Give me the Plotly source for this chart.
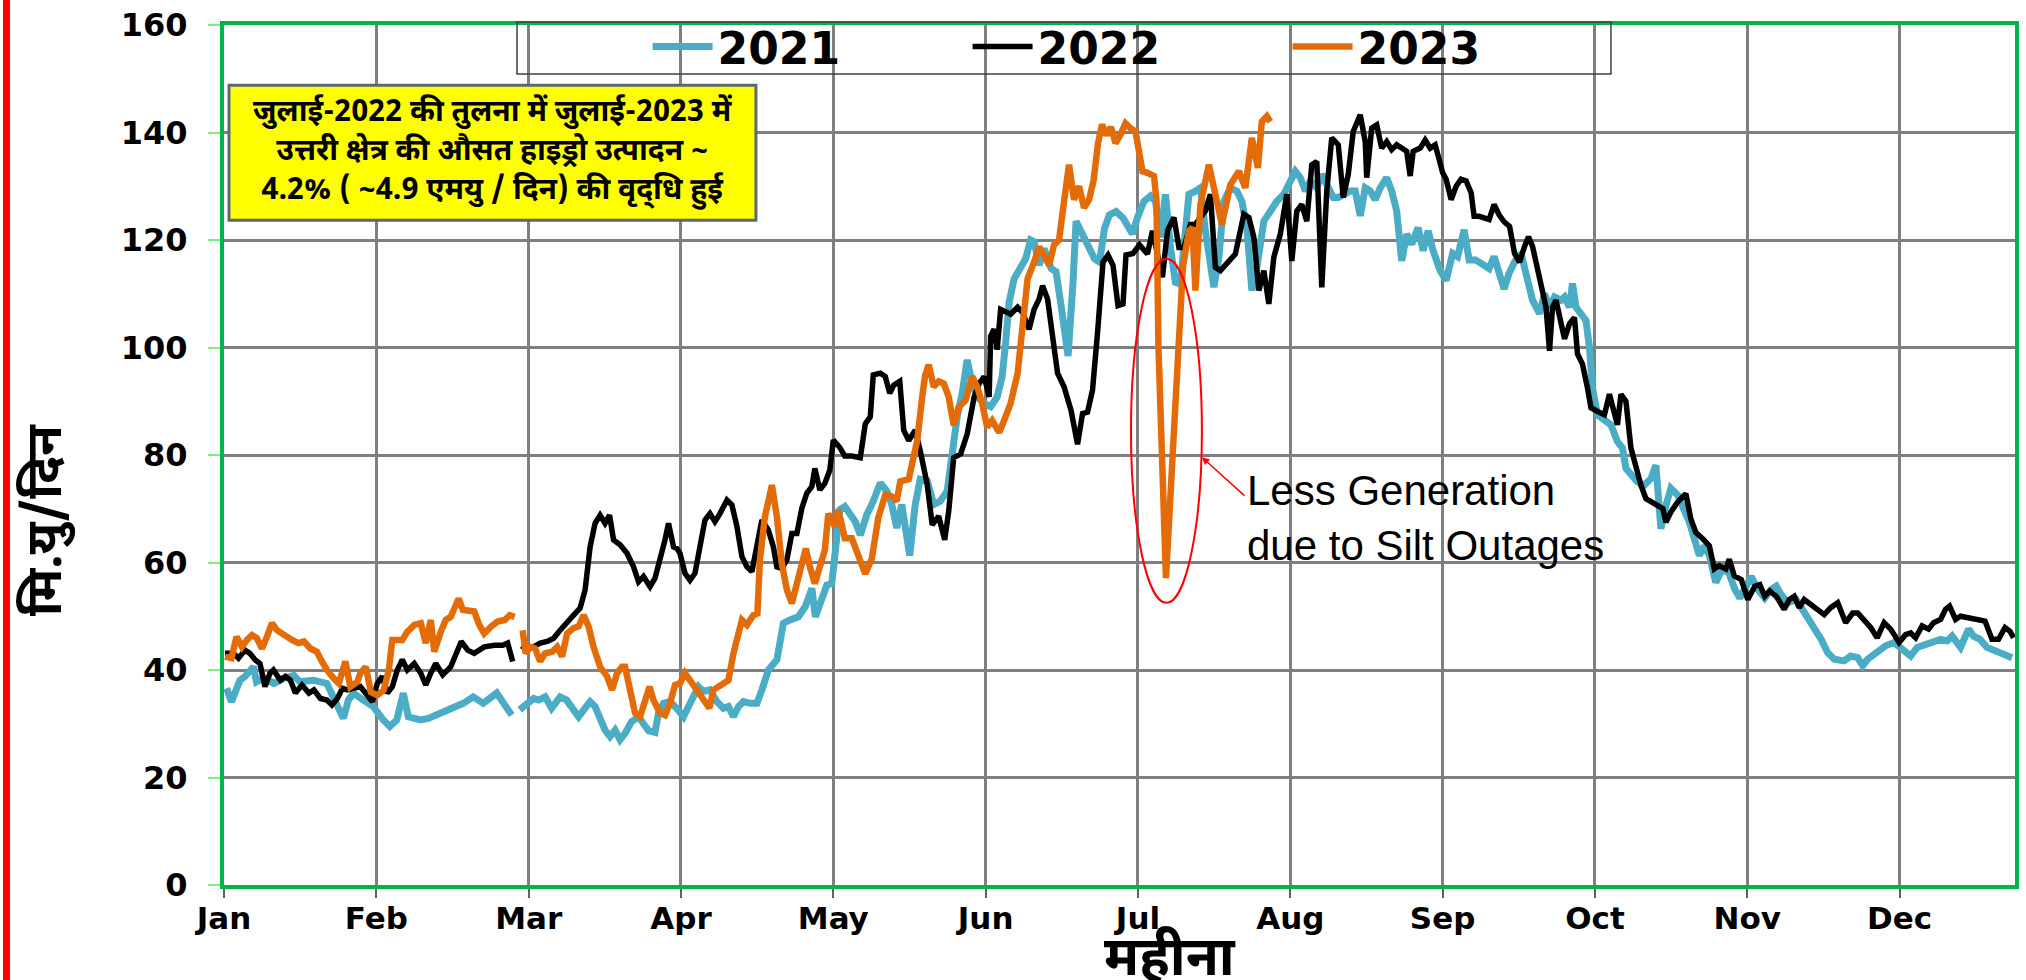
import plotly.graph_objects as go

# x = day of the year (Jan 1 = 0), months drawn at equal spacing like the source chart
MONTHS = ["Jan", "Feb", "Mar", "Apr", "May", "Jun", "Jul", "Aug", "Sep", "Oct", "Nov", "Dec"]
MONTH_POS = [i * 30.5 for i in range(12)]
Y_TICKS = [0, 20, 40, 60, 80, 100, 120, 140, 160]

# (day, MU/day); None = missing 29 Feb
HYDRO_2021 = [
    (0.5, 36.6), (1.5, 34.1), (3.2, 38.1), (4.2, 38.8), (5.9, 40.6), (6.5, 37.8), (8, 38.5), (10, 37.5),
    (12, 38.5), (14, 39.0), (15.2, 37.8), (17.9, 38.1), (20.6, 37.5), (22.2, 34.4), (23.9, 31.0), (24.9, 34.4),
    (25.9, 35.7), (27.9, 34.4), (29.9, 33.2), (31.9, 30.7), (33.2, 29.5), (34.6, 30.7), (35.9, 35.7), (36.9, 31.3),
    (39.3, 30.7), (40.9, 31.0), (43.3, 31.9), (45.9, 33.2), (47.9, 33.8), (49.9, 35.0), (51.9, 33.8), (54.6, 35.7),
    (55.9, 33.8), (57.6, 31.6), (58.5, None), (59.2, 32.6), (60.6, 33.5), (62, 34.7), (63, 34.4), (64.3, 35.0),
    (65.6, 32.9), (67.3, 35.0), (68.6, 34.4), (70, 32.6), (71, 31.3), (72.3, 32.9), (73.3, 34.1), (74.3, 33.2),
    (75.3, 30.7), (76.3, 28.8), (77.3, 27.6), (78.3, 28.8), (79.3, 27.0), (80.3, 28.2), (81.6, 30.4), (83, 31.3),
    (84, 30.0), (85, 28.7), (86.3, 28.4), (87, 32.0), (88, 33.8), (89.3, 34.1), (90.6, 32.9), (92, 31.3),
    (93, 33.2), (94, 35.0), (95, 36.9), (96, 36.0), (97.3, 36.3), (98.7, 34.1), (100, 32.9), (101, 33.2),
    (102, 31.3), (103, 33.2), (104, 34.1), (105.4, 33.8), (106.7, 33.8), (107.7, 36.3), (109, 40.0), (110.7, 41.9),
    (112, 48.7), (113.3, 49.3), (115, 49.9), (116.4, 51.8), (117.7, 55.2), (118.4, 49.9), (119.7, 53.6), (120.7, 55.8),
    (121.7, 56.1), (122.7, 63.2), (123.3, 69.8), (124.3, 70.4), (125.4, 68.9), (126.4, 67.6), (127.4, 65.1), (128.7, 68.9),
    (130, 71.4), (131.4, 74.8), (132.7, 73.3), (133.7, 70.8), (134.7, 66.4), (135.7, 70.8), (137.3, 61.3), (138.4, 70.8),
    (139.4, 75.5), (140.8, 75.2), (142.1, 70.8), (143.4, 71.4), (144.8, 73.3), (145.8, 81.4), (146.8, 87.1), (147.8, 91.5),
    (148.8, 97.7), (149.8, 93.3), (150.8, 90.8), (152.2, 89.6), (153.5, 89.0), (154.8, 90.8), (155.8, 94.6), (156.5, 100.9),
    (157.2, 108.4), (158.2, 112.8), (159.5, 114.7), (160.5, 116.5), (161.5, 120.0), (162.2, 119.7), (163.2, 115.3), (164.2, 118.4),
    (165.6, 114.7), (166.6, 114.1), (167.6, 107.8), (169, 98.4), (170, 112.2), (170.6, 123.5), (171.6, 121.6), (173, 119.1),
    (174.3, 116.5), (175.3, 115.9), (176.3, 122.2), (177.3, 124.7), (178.6, 125.3), (180, 124.1), (181.9, 121.1), (182.9, 124.2),
    (184.2, 127.2), (185.5, 128.2), (186.5, 127.2), (187.5, 120.5), (188.5, 128.5), (189.5, 118.6), (190.5, 112.1), (191.5, 111.8),
    (192.5, 121.7), (193.2, 128.5), (194.5, 129.1), (195.5, 129.7), (196.5, 121.7), (197.2, 116.8), (198.2, 111.2), (199.2, 116.8),
    (200.2, 127.2), (201.5, 129.7), (202.8, 129.1), (203.8, 127.2), (204.8, 122.3), (205.8, 110.6), (206.8, 114.9), (208.2, 123.5),
    (209.5, 125.4), (210.8, 127.2), (212.2, 128.5), (213.2, 130.3), (214.5, 132.8), (215.5, 131.6), (216.5, 129.1), (217.5, 131.0),
    (218.8, 129.7), (219.8, 132.2), (220.8, 130.3), (222.1, 127.9), (223.1, 127.9), (224.5, 128.5), (225.5, 129.1), (226.5, 129.1),
    (227.5, 124.5), (228.5, 129.7), (229.5, 129.1), (230.5, 127.5), (231.5, 129.7), (232.8, 131.6), (233.8, 129.1), (234.8, 125.4),
    (235.8, 116.1), (236.8, 121.1), (237.8, 119.2), (239.1, 122.3), (240.1, 118.0), (241.1, 121.7), (242.1, 118.0), (243.5, 114.3),
    (244.7, 112.5), (246, 117.5), (247, 116.9), (248.3, 121.9), (249.3, 116.3), (250.6, 116.3), (252, 115.6), (253.3, 114.7),
    (254.3, 116.9), (255.3, 113.8), (256.3, 110.9), (257.3, 113.8), (258.4, 115.9), (259.7, 117.5), (261, 113.1), (262, 108.8),
    (263.4, 106.3), (264.4, 110.0), (265.4, 107.5), (266.4, 109.4), (267.7, 108.8), (268.4, 109.4), (269.4, 107.5), (270, 111.9),
    (270.7, 107.5), (271.7, 106.3), (272.7, 105.0), (273.4, 100.0), (274, 92.5), (275, 87.5), (276.4, 86.3), (277.7, 85.6),
    (279, 82.5), (280, 81.3), (280.7, 77.5), (281.7, 76.3), (283, 75.0), (284.4, 74.4), (285.7, 75.6), (286.7, 78.1),
    (287.7, 66.3), (288.7, 70.6), (289.7, 73.8), (291.1, 72.5), (292.4, 70.0), (293.4, 67.5), (294.4, 64.4), (295.4, 61.3),
    (296.4, 63.1), (297.4, 61.3), (298.7, 56.3), (300, 58.8), (301.3, 58.1), (302.5, 55.0), (303.5, 53.4), (304.8, 55.6),
    (305.8, 57.4), (307.1, 55.0), (308.5, 53.4), (309.8, 55.0), (310.8, 55.6), (311.8, 54.0), (313.1, 52.5), (314.8, 53.1),
    (316.1, 51.3), (317.4, 49.4), (318.8, 47.6), (319.8, 45.7), (321.1, 43.2), (322.4, 42.0), (324.4, 41.7), (325.7, 42.6),
    (327.1, 42.3), (328.1, 40.8), (329.1, 42.0), (330, 42.6), (331.4, 43.8), (332.7, 44.5), (334.4, 45.1), (336, 43.8),
    (337.7, 42.6), (339, 44.2), (340.7, 44.8), (342.3, 45.1), (343.7, 45.7), (345, 45.4), (346, 46.3), (347.7, 44.2),
    (349.3, 47.6), (350.3, 46.3), (351.6, 45.7), (353, 44.2), (355, 43.5), (356.6, 42.6), (358, 42.3),
]

HYDRO_2022 = [
    (0.2, 43.1), (1.9, 43.1), (2.9, 42.2), (4.2, 43.7), (5.2, 43.1), (6.2, 41.9), (7.2, 41.2), (8.2, 36.9),
    (9.2, 39.4), (9.9, 40.0), (11.3, 38.1), (12.3, 38.8), (13.3, 38.1), (14.3, 35.7), (15.6, 37.2), (17.0, 35.7),
    (18.0, 36.3), (19.3, 34.7), (20.6, 34.4), (21.6, 33.5), (22.7, 34.7), (23.7, 36.6), (24.7, 36.3), (26.0, 36.6),
    (27.3, 36.9), (28.7, 35.3), (29.7, 34.1), (30.7, 37.5), (31.7, 38.8), (32.7, 35.7), (33.7, 36.9), (34.7, 40.0),
    (35.7, 41.9), (36.7, 40.0), (38.1, 41.2), (39.4, 39.4), (40.4, 37.2), (41.4, 39.4), (42.4, 41.2), (43.8, 39.1),
    (45.4, 40.6), (47.5, 45.3), (48.8, 43.7), (50.1, 43.1), (52.1, 44.3), (54.2, 44.6), (55.8, 44.6), (56.8, 45.0),
    (57.8, 41.6), (58.7, None), (59.6, 44.5), (60.7, 43.7), (62, 44.3), (63.3, 45.0), (64.7, 45.3), (66, 45.9),
    (67.3, 47.4), (68.7, 49.0), (70, 50.2), (71.3, 51.5), (72.3, 54.9), (73.3, 62.9), (74.3, 67.3), (75.3, 68.8),
    (76.3, 67.3), (77.2, 68.8), (78, 64.2), (79.3, 63.3), (80.7, 61.7), (82, 59.2), (83, 56.4), (84, 57.4),
    (85.3, 55.5), (86.3, 57.1), (87.3, 60.5), (88.3, 64.2), (89, 67.3), (90, 62.9), (90.7, 62.6), (91.3, 61.7),
    (92.3, 58.0), (93.3, 56.7), (94.3, 58.0), (95.3, 62.9), (96.3, 67.9), (97.3, 69.1), (98.3, 67.6), (99.3, 69.1),
    (100.7, 71.6), (101.7, 70.7), (102.7, 66.7), (103.7, 61.1), (104.7, 59.2), (105.7, 58.3), (106.7, 62.9), (107.7, 67.9),
    (109, 66.0), (110, 62.9), (110.7, 59.2), (111.7, 58.9), (112.7, 60.5), (113.7, 65.4), (114.7, 65.4), (115.7, 70.1),
    (116.7, 72.9), (117.7, 74.1), (118.3, 77.5), (119.3, 73.5), (120.3, 74.7), (121.3, 77.2), (122, 82.8), (123.3, 81.4),
    (124.3, 79.8), (125.7, 79.8), (127.4, 79.5), (128.4, 85.8), (129.4, 87.1), (130, 94.9), (131.4, 95.2), (132.4, 94.6),
    (133.3, 91.5), (134.1, 93.0), (135.3, 93.7), (136.1, 84.6), (137.1, 82.7), (138.4, 84.6), (139.4, 80.8), (140.8, 74.5),
    (141.8, 67.0), (143.1, 68.6), (144.3, 64.2), (145.1, 69.5), (146.1, 79.5), (147.5, 80.2), (148.8, 83.9), (150.2, 90.8),
    (151.2, 93.3), (152.2, 94.6), (153.2, 90.8), (153.5, 102.1), (154.2, 103.4), (154.8, 99.6), (155.5, 107.1), (156.5, 106.5),
    (157.5, 106.2), (158.9, 107.5), (159.9, 106.5), (161.2, 103.4), (162.2, 107.1), (163.2, 109.0), (163.9, 111.5), (164.9, 109.0),
    (165.9, 102.1), (166.9, 95.2), (168.2, 92.7), (169.6, 88.3), (170.9, 82.0), (171.9, 87.7), (172.9, 88.0), (173.9, 92.1),
    (174.9, 102.7), (176, 115.9), (177, 117.2), (178, 115.3), (179, 107.8), (180, 108.1), (180.6, 117.2), (182, 117.5),
    (183.3, 119.1), (184.9, 117.4), (185.9, 121.7), (186.9, 116.8), (187.9, 113.1), (188.9, 121.7), (190.2, 124.2), (191.2, 118.6),
    (192.2, 118.6), (193.5, 122.9), (194.5, 122.9), (195.5, 124.2), (196.5, 125.4), (197.5, 128.5), (198.5, 114.9), (199.5, 114.3),
    (200.8, 115.5), (202.5, 117.4), (204.2, 124.8), (205.2, 124.2), (206.2, 120.5), (207.2, 110.6), (208.2, 114.3), (209.2, 108.1),
    (210.2, 116.8), (211.5, 121.1), (212.8, 128.5), (213.8, 116.1), (214.8, 125.4), (215.8, 126.6), (216.8, 123.5), (217.8, 134.0),
    (218.8, 134.6), (219.8, 111.2), (220.8, 129.1), (221.8, 139.0), (223.1, 137.7), (224.1, 127.9), (225.1, 132.2), (226.1, 140.2),
    (227.5, 143.3), (228.5, 138.3), (228.8, 131.6), (229.8, 140.8), (230.8, 141.4), (231.8, 137.1), (232.8, 138.3), (233.8, 136.8),
    (234.8, 137.7), (235.8, 137.1), (236.8, 136.5), (237.5, 131.9), (238.1, 136.5), (239.5, 137.1), (240.5, 138.6), (241.5, 137.1),
    (242.5, 137.7), (243.3, 135.0), (244, 132.5), (244.7, 131.3), (245.7, 127.5), (246.7, 130.0), (247.7, 131.3), (248.7, 131.0),
    (249.7, 128.8), (250.3, 124.4), (251.3, 124.4), (252.3, 124.1), (253.3, 123.8), (254.3, 126.6), (255.3, 124.7), (256.3, 123.4),
    (257.4, 122.5), (258.4, 117.5), (259.4, 115.9), (260.4, 118.8), (261.2, 120.6), (262, 118.8), (262.7, 115.6), (263.7, 111.3),
    (264.7, 107.5), (265.4, 99.4), (266, 107.5), (266.7, 108.8), (267.7, 105.0), (268.4, 101.6), (269.4, 104.4), (270.4, 105.6),
    (271, 98.8), (272, 96.9), (273, 92.5), (273.7, 88.8), (275, 88.1), (276.4, 87.5), (277.4, 91.3), (278.2, 88.8),
    (279, 85.6), (279.7, 91.3), (280.7, 90.0), (281.7, 81.3), (282.7, 77.5), (283.7, 74.4), (284.7, 71.9), (285.7, 71.3),
    (287.1, 70.6), (288.1, 70.0), (288.7, 67.5), (289.7, 69.4), (291.1, 71.3), (292.7, 72.8), (293.7, 68.1), (294.7, 65.6),
    (296.1, 64.4), (297.4, 63.1), (298.4, 58.8), (299.4, 59.4), (300.7, 58.8), (301.4, 60.6), (302.4, 57.5), (303.8, 56.8),
    (305.1, 53.1), (306.5, 55.6), (307.5, 55.9), (308.5, 53.7), (309.5, 54.7), (310.8, 53.7), (312.4, 51.3), (313.4, 53.1),
    (314.4, 53.7), (315.4, 51.6), (316.4, 53.1), (317.8, 52.2), (319.1, 51.3), (320.4, 50.3), (321.7, 51.6), (323.1, 52.5),
    (324.7, 48.8), (326.1, 50.6), (327.1, 50.6), (328.4, 49.4), (329.7, 47.9), (331, 46.0), (332.4, 48.8), (333.7, 47.6),
    (335.4, 45.1), (336.7, 46.6), (337.7, 46.9), (338.7, 46.0), (340, 48.2), (341.3, 47.6), (342.3, 48.8), (343.7, 49.4),
    (344.7, 51.3), (345.5, 51.9), (346.7, 49.4), (347.7, 50.0), (349.3, 49.7), (351, 49.4), (352.6, 49.1), (354, 45.7),
    (355.3, 45.7), (356.6, 47.9), (357.6, 47.2), (358.3, 46.0),
]

HYDRO_2023 = [
    (0.2, 42.5), (1.5, 42.2), (2.5, 46.2), (3.6, 44.3), (4.6, 45.6), (5.6, 46.5), (6.6, 45.9), (7.6, 44.0),
    (8.6, 46.2), (9.6, 48.7), (10.6, 47.4), (11.9, 46.5), (13.6, 45.6), (14.9, 45.0), (16.0, 45.3), (17.3, 44.0),
    (18.6, 43.4), (19.6, 41.6), (20.6, 40.0), (22.0, 38.4), (23.0, 37.5), (24.3, 41.6), (25.3, 36.9), (26.7, 37.8),
    (27.3, 39.4), (28.4, 40.6), (29.4, 35.9), (30.7, 35.3), (32.0, 36.3), (33.0, 40.0), (33.7, 45.6), (34.7, 45.6),
    (35.7, 45.6), (36.7, 47.1), (38.1, 48.4), (39.4, 48.7), (40.4, 45.0), (41.4, 49.3), (42.1, 43.4), (43.4, 47.1),
    (44.4, 49.3), (45.4, 49.9), (46.1, 51.5), (47.0, 53.3), (47.8, 51.2), (49.1, 51.2), (50.1, 50.9), (51.1, 48.4),
    (52.1, 46.8), (53.5, 48.1), (54.8, 49.0), (56.2, 49.3), (57.2, 50.2), (58.2, 49.9), (59.0, None), (59.8, 47.4),
    (60.4, 43.1), (61.3, 44.3), (62.3, 44.0), (63.3, 41.6), (64.3, 43.1), (65.7, 43.4), (66.7, 44.3), (67.7, 42.5),
    (68.7, 46.8), (70, 47.8), (71, 48.1), (72, 50.2), (73, 48.1), (74, 44.3), (75.3, 40.6), (76.7, 38.8),
    (77.7, 36.3), (78.7, 39.4), (79.7, 40.6), (80.3, 40.6), (81.3, 35.7), (82.3, 32.0), (83.3, 31.3), (84.3, 34.7),
    (85.2, 36.9), (86, 34.4), (87.3, 32.0), (88.3, 31.6), (89.3, 33.8), (90.3, 37.2), (91.3, 37.5), (92.3, 39.4),
    (93.3, 38.1), (94.3, 36.6), (95.3, 35.0), (96.3, 33.8), (97.2, 32.9), (98, 36.3), (99, 36.9), (100, 37.8),
    (101, 38.1), (102, 43.1), (103, 46.8), (103.7, 49.3), (104.7, 48.4), (105.3, 49.3), (106, 50.2), (106.8, 50.5),
    (107.3, 60.5), (108.3, 68.5), (109.7, 74.4), (110.7, 68.5), (111.7, 59.8), (112.7, 54.9), (113.7, 52.4), (114.7, 56.1),
    (115.7, 59.8), (116.5, 62.6), (117.3, 59.2), (118.3, 56.1), (119.3, 59.2), (120.3, 62.3), (121, 69.1), (121.7, 68.0),
    (122.3, 66.7), (123, 69.8), (124.3, 64.5), (125.7, 64.5), (127, 61.3), (128.4, 57.9), (129.7, 60.7), (131, 68.3),
    (132.4, 72.6), (133.7, 72.3), (134.7, 71.4), (135.4, 75.1), (137.1, 75.5), (138.8, 82.7), (139.8, 90.8), (140.4, 94.9),
    (141.1, 96.8), (142.1, 92.7), (143.1, 93.7), (144.1, 93.3), (145.1, 90.8), (146.1, 85.5), (147.1, 88.9), (148.5, 90.2),
    (149.8, 94.6), (150.8, 92.7), (151.8, 89.6), (152.8, 85.2), (153.8, 86.4), (155.2, 84.2), (156.2, 86.4), (157.5, 89.6),
    (158.9, 95.2), (159.5, 100.9), (160.2, 107.1), (160.9, 112.8), (162.2, 115.9), (163.2, 118.7), (164.2, 117.2), (165.2, 115.3),
    (166.2, 119.1), (167.2, 120.0), (168.2, 127.2), (169.2, 134.0), (170.2, 127.5), (171.2, 130.0), (172.2, 126.0), (173.2, 127.5),
    (174.1, 131.0), (175, 138.0), (175.8, 141.5), (176.7, 139.5), (177.6, 141.0), (178.5, 138.0), (179.5, 139.6), (180.5, 141.7),
    (181.5, 140.8), (182.5, 140.2), (183.2, 136.5), (183.9, 132.8), (184.9, 132.5), (186.2, 131.9), (186.7, 127.4), (187.1, 100.1),
    (188.6, 57.1), (190.9, 100.1), (192.0, 115.0), (193.2, 121.7), (193.9, 122.3), (194.5, 110.6), (195.5, 126.6), (197.2, 134.0),
    (199.8, 122.9), (201.5, 130.3), (203.2, 132.8), (204.5, 129.7), (205.8, 139.0), (207, 133.4), (207.8, 142.0), (208.8, 143.0),
    (209.5, 142.0),
]

SERIES = [("2021", HYDRO_2021, "#4bacc6", 7), ("2022", HYDRO_2022, "#000000", 5.5), ("2023", HYDRO_2023, "#e36c09", 6.5)]

NOTE_TEXT = (
    "जुलाई-2022 की तुलना में जुलाई-2023 में<br>"
    "उत्तरी क्षेत्र की औसत हाइड्रो उत्पादन ~<br>"
    "4.2% ( ~4.9 एमयु / दिन) की वृद्\u200cधि हुई"
)
CALLOUT_TEXT = "Less Generation<br>due to Silt Outages"

DEVA = "Noto Sans Devanagari, Noto Sans, DejaVu Sans, sans-serif"
BOLD = "DejaVu Sans, Liberation Sans, sans-serif"
GREEN = "#00b34a"
GRID = "#7f7f7f"

fig = go.Figure()
for name, pts, color, width in SERIES:
    fig.add_trace(go.Scatter(
        x=[p[0] for p in pts], y=[p[1] for p in pts], name=name, mode="lines",
        line=dict(color=color, width=width), connectgaps=False,
    ))

fig.update_layout(
    width=2026, height=980,
    margin=dict(l=224, r=11, t=25, b=95, autoexpand=False),
    paper_bgcolor="white", plot_bgcolor="white",
    showlegend=True,
    legend=dict(
        orientation="h", x=0.2365, xanchor="left", y=0.9745, yanchor="middle",
        entrywidth=245, entrywidthmode="pixels", itemwidth=60, bgcolor="rgba(0,0,0,0)",
        font=dict(family=BOLD, size=44, color="black", weight="bold"),
    ),
)
fig.update_xaxes(
    range=[0, 358.6], tickmode="array", tickvals=MONTH_POS, ticktext=MONTHS,
    showgrid=True, gridcolor=GRID, gridwidth=2.5, zeroline=False,
    showline=True, linecolor=GREEN, linewidth=4, mirror=True,
    ticks="outside", ticklen=9, tickwidth=1.5, tickcolor="#606060", ticklabelstandoff=-6,
    tickfont=dict(family=BOLD, size=31, color="black", weight="bold"),
)
fig.update_yaxes(
    range=[0, 160], tickmode="array", tickvals=Y_TICKS,
    showgrid=True, gridcolor=GRID, gridwidth=2.5, zeroline=False,
    showline=True, linecolor=GREEN, linewidth=4, mirror=True,
    ticks="outside", ticklen=12, tickwidth=2, tickcolor="#7cf07c", ticklabelstandoff=14,
    tickfont=dict(family=BOLD, size=32, color="black", weight="bold"),
)

# red strip at the far left of the slide
fig.add_shape(type="rect", xref="paper", yref="paper", x0=-0.1234, x1=-0.1195, y0=-0.12, y1=1.04,
              fillcolor="#ff0000", line=dict(width=0), layer="above")
# legend frame
fig.add_shape(type="rect", xref="paper", yref="paper", x0=0.1636, x1=0.7744, y0=0.943, y1=1.0035,
              line=dict(color="#404040", width=1.5), layer="above")
# yellow note box
fig.add_shape(type="rect", xref="paper", yref="paper", x0=0.0028, x1=0.297, y0=0.773, y1=0.930,
              fillcolor="#ffff00", line=dict(color="#5a6878", width=3), layer="above")
fig.add_annotation(xref="paper", yref="paper", x=0.1499, y=0.852, xanchor="center", yanchor="middle",
                   text=NOTE_TEXT, showarrow=False, align="center",
                   font=dict(family=DEVA, size=30, color="black", weight="bold"))

# silt outage callout
fig.add_shape(type="circle", xref="x", yref="y", x0=181.6, x1=195.8, y0=52.5, y1=116.5,
              line=dict(color="#ff0000", width=2), layer="above")
fig.add_annotation(x=195.8, y=79.6, ax=204.6, ay=72.2, axref="x", ayref="y", text="",
                   showarrow=True, arrowhead=2, arrowsize=1, arrowwidth=1.5, arrowcolor="#ff0000")
fig.add_annotation(x=204.4, y=68.3, xanchor="left", yanchor="middle", text=CALLOUT_TEXT, showarrow=False,
                   align="left", font=dict(family="Liberation Sans, Arial, sans-serif", size=42, color="black"))

# axis titles
fig.add_annotation(xref="paper", yref="paper", x=0.528, y=-0.089, xanchor="center", yanchor="middle",
                   text="महीना", showarrow=False,
                   font=dict(family=DEVA, size=54, color="black", weight="bold"))
fig.add_annotation(xref="paper", yref="paper", x=-0.0983, y=0.4244, xanchor="center", yanchor="middle",
                   text="मि.यु/दिन", textangle=-90, showarrow=False,
                   font=dict(family=DEVA, size=50, color="black", weight="bold"))

# drop the default 8px page margin so the figure fills the window exactly
fig.write_html("out.html", config={"displayModeBar": False},
               post_script="document.body.style.margin='0';")
